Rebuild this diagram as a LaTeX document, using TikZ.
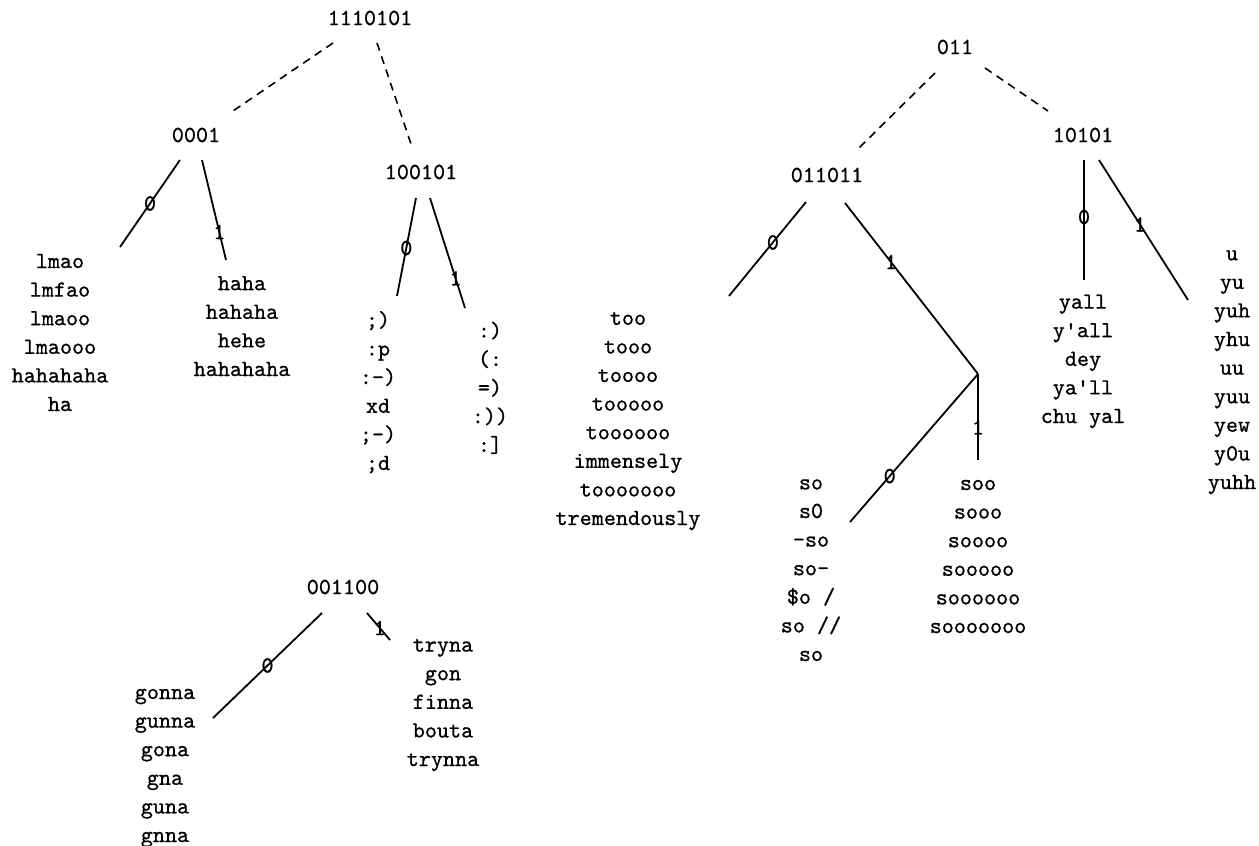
\documentclass[tikz,border=0pt]{standalone}
\usepackage{fontspec}
\setmonofont{lmmono10-regular.otf}[FakeBold=0.8]
\begin{document}
\begin{tikzpicture}[x=1pt,y=-1pt,
  font=\fontsize{23}{28.6}\selectfont\ttfamily,
  key/.style={inner sep=0pt},
  lst/.style={align=center, anchor=base, inner sep=0pt},
  bit/.style={inner sep=0pt},
  br/.style={line width=1.8pt},
  dsh/.style={line width=1.6pt, dash pattern=on 8pt off 6pt}]
\useasboundingbox (0,0) rectangle (1259,846);

% Word lists are anchored at the baseline of their last line.

% ---------- tree rooted at 1110101 ----------
\node[key] (r1) at (370,18) {1110101};
\node[key] (a0) at (196,135) {0001};
\node[key] (a1) at (421,172) {100101};
\node[lst] (L1) at (60,411) {lmao\\lmfao\\lmaoo\\lmaooo\\hahahaha\\ha};
\node[lst] (L2) at (242,376) {haha\\hahaha\\hehe\\hahahaha};
\node[lst] (L3) at (378,470) {;)\\:p\\:-)\\xd\\;-)\\;d};
\node[lst] (L4) at (490,452) {:)\\(:\\=)\\:))\\:]};

\draw[dsh] ([shift={(-37,25)}]r1.center) -- ([shift={(34,-22)}]a0.center);
\draw[dsh] ([shift={(7,25)}]r1.center) -- ([shift={(-9,-25)}]a1.center);
\draw[br] ([shift={(-16,25)}]a0.center) -- node[bit,pos=0.5]{0} ([shift={(60,-164)}]L1.base);
\draw[br] ([shift={(6,25)}]a0.center) -- node[bit,pos=0.72]{1} ([shift={(-16,-116)}]L2.base);
\draw[br] ([shift={(-5,26)}]a1.center) -- node[bit,pos=0.51]{0} ([shift={(19,-174)}]L3.base);
\draw[br] ([shift={(9,26)}]a1.center) -- node[bit,pos=0.73]{1} ([shift={(-25,-144)}]L4.base);

% ---------- tree rooted at 001100 ----------
\node[key] (g) at (343,587) {001100};
\node[lst] (L10) at (165,842) {gonna\\gunna\\gona\\gna\\guna\\gnna};
\node[lst] (L11) at (443,766) {tryna\\gon\\finna\\bouta\\trynna};
\draw[br] ([shift={(-21,26)}]g.center) -- node[bit,pos=0.5]{0} ([shift={(48,-124)}]L10.base);
\draw[br] ([shift={(24,26)}]g.center) -- node[bit,pos=0.55]{1} ([shift={(-53,-126)}]L11.base);

% ---------- tree rooted at 011 ----------
\node[key] (r2) at (955,47) {011};
\node[key] (b0) at (827,175) {011011};
\node[key] (b1) at (1083,135) {10101};
\coordinate (j) at (978,374);
\node[lst] (L5) at (628,525) {too\\tooo\\toooo\\tooooo\\toooooo\\immensely\\tooooooo\\tremendously};
\node[lst] (L6) at (811,661) {so\\s0\\-so\\so-\\\$o /\\so //\\so};
\node[lst] (L7) at (978,633) {soo\\sooo\\soooo\\sooooo\\soooooo\\sooooooo};
\node[lst] (L8) at (1083,423) {yall\\y'all\\dey\\ya'll\\chu yal};
\node[lst] (L9) at (1232,489) {u\\yu\\yuh\\yhu\\uu\\yuu\\yew\\y0u\\yuhh};

\draw[dsh] ([shift={(-20,26)}]r2.center) -- ([shift={(30,-25)}]b0.center);
\draw[dsh] ([shift={(30,21)}]r2.center) -- ([shift={(-35,-24)}]b1.center);
\draw[br] ([shift={(-21,27)}]b0.center) -- node[bit,pos=0.43]{0} ([shift={(101,-229)}]L5.base);
\draw[br] ([shift={(18,28)}]b0.center) -- node[bit,pos=0.345]{1} (j);
\draw[br] (j) -- node[bit,pos=0.69]{0} ([shift={(39,-139)}]L6.base);
\draw[br] (j) -- node[bit,pos=0.62]{1} ([shift={(0,-173)}]L7.base);
\draw[br] ([shift={(1,25)}]b1.center) -- node[bit,pos=0.475]{0} ([shift={(1,-143)}]L8.base);
\draw[br] ([shift={(16,25)}]b1.center) -- node[bit,pos=0.46]{1} ([shift={(-44,-189)}]L9.base);
\end{tikzpicture}
\end{document}
